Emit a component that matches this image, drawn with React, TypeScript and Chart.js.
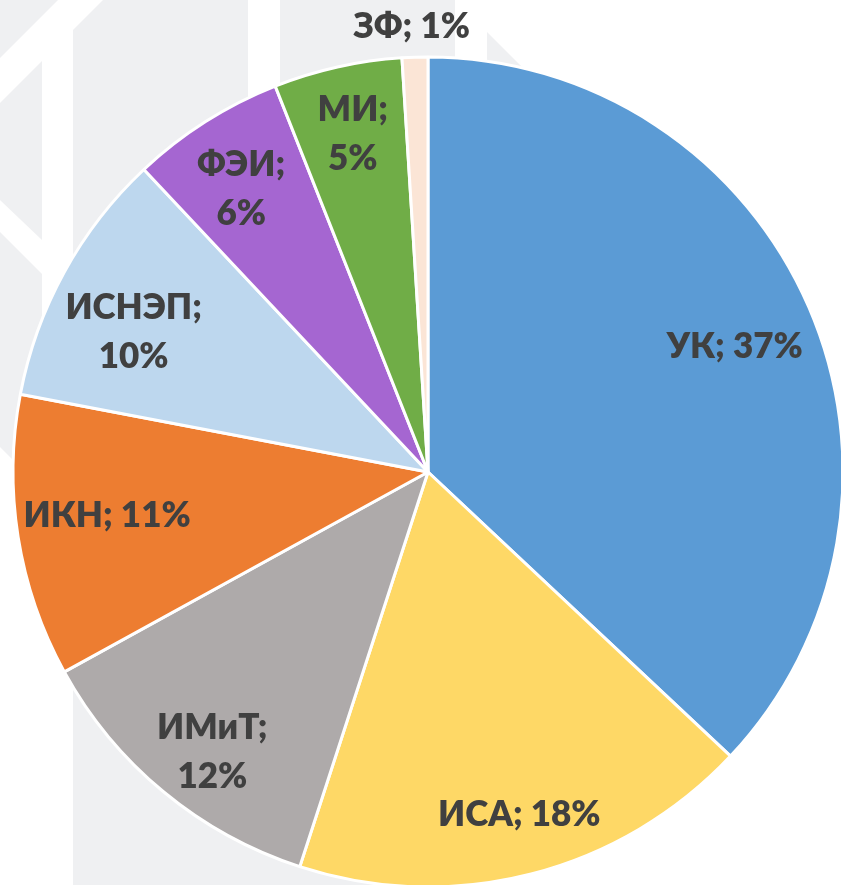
import React, { useEffect, useRef } from "react";
import { Chart, registerables } from "chart.js";

Chart.register(...registerables);

// ---- data ----
const categories = ["УК", "ИСА", "ИМиТ", "ИКН", "ИСНЭП", "ФЭИ", "МИ", "ЗФ"];
const shares = [37, 18, 12, 11, 10, 6, 5, 1];
const sliceColors = ["#5B9BD5", "#FED866", "#AEAAAA", "#ED7D31", "#BDD7EE", "#A566D1", "#70AD47", "#FBE5D6"];
const wrapLabel = [false, false, true, false, true, true, true, false];

// ---- label layout: radial fraction of radius and angular nudge (deg) from slice mid-angle ----
const labelRadius = [0.8, 0.85, 0.848, 0.78, 0.787, 0.82, 0.837, 1.078];
const labelNudgeDeg = [0.9, -0.6, -1.8, 1.5, -3.1, -0.9, 0.1, -0.3];

const W = 841;
const H = 885;
const FONT = "Lato, 'Open Sans', sans-serif";
const FONT_WEIGHT = 800;
const FONT_SIZE = 35;
const LINE = 49;

// decorative watermark behind the pie
const watermark: number[][][] = [
  [[0, 0], [58, 0], [0, 58]],
  [[0, 103], [42, 61], [42, 240], [0, 200]],
  [[0, 232], [42, 274], [42, 489], [0, 447]],
  [[73, 30], [103, 0], [248, 0], [248, 560], [445, 885], [73, 885]],
  [[280, 0], [455, 0], [455, 200], [280, 200]],
  [[487, 32], [540, 85], [487, 85]],
];

const backgroundPlugin = {
  id: "bgWatermark",
  beforeDraw(chart: any) {
    const ctx = chart.ctx;
    ctx.save();
    ctx.fillStyle = "#FFFFFF";
    ctx.fillRect(0, 0, chart.width, chart.height);
    ctx.fillStyle = "#EFF0F2";
    watermark.forEach((poly) => {
      ctx.beginPath();
      poly.forEach(([px, py], k) => (k === 0 ? ctx.moveTo(px, py) : ctx.lineTo(px, py)));
      ctx.closePath();
      ctx.fill();
    });
    ctx.restore();
  },
};

const labelPlugin = {
  id: "sliceLabels",
  afterDatasetsDraw(chart: any) {
    const meta = chart.getDatasetMeta(0);
    const ctx = chart.ctx;
    const total = shares.reduce((a, b) => a + b, 0);
    ctx.save();
    ctx.font = `${FONT_WEIGHT} ${FONT_SIZE}px ${FONT}`;
    ctx.fillStyle = "#404040";
    ctx.textAlign = "center";
    ctx.textBaseline = "alphabetic";
    const capH = ctx.measureText("Н").actualBoundingBoxAscent;
    meta.data.forEach((arc: any, i: number) => {
      const { x, y, startAngle, endAngle, outerRadius } = arc.getProps(
        ["x", "y", "startAngle", "endAngle", "outerRadius"],
        true
      );
      const mid = (startAngle + endAngle) / 2 + (labelNudgeDeg[i] * Math.PI) / 180;
      const r = outerRadius * labelRadius[i];
      const cx = x + Math.cos(mid) * r;
      const cy = y + Math.sin(mid) * r;
      const pct = Math.round((shares[i] / total) * 100) + "%";
      const lines = wrapLabel[i] ? [categories[i] + ";", pct] : [categories[i] + "; " + pct];
      const blockH = (lines.length - 1) * LINE + capH;
      lines.forEach((t, k) => {
        ctx.fillText(t, cx, cy - blockH / 2 + capH + k * LINE);
      });
    });
    ctx.restore();
  },
};

export default function App() {
  const ref = useRef<HTMLCanvasElement | null>(null);

  useEffect(() => {
    if (!ref.current) return;
    const chart = new Chart(ref.current, {
      type: "pie",
      data: {
        labels: categories,
        datasets: [
          {
            data: shares,
            backgroundColor: sliceColors,
            borderColor: "#FFFFFF",
            borderWidth: 3,
            hoverOffset: 0,
            offset: 0,
          },
        ],
      },
      options: {
        animation: false,
        responsive: false,
        maintainAspectRatio: false,
        radius: 415,
        layout: { padding: { left: 15, right: 0, top: 59, bottom: 0 } },
        plugins: {
          legend: { display: false },
          tooltip: { enabled: false },
        },
        events: [],
      } as any,
      plugins: [backgroundPlugin, labelPlugin],
    });
    return () => chart.destroy();
  }, []);

  return (
    <div style={{ position: "fixed", left: 0, top: 0, width: W, height: H, background: "#fff" }}>
      <canvas ref={ref} width={W} height={H} style={{ display: "block", width: W, height: H }} />
    </div>
  );
}
